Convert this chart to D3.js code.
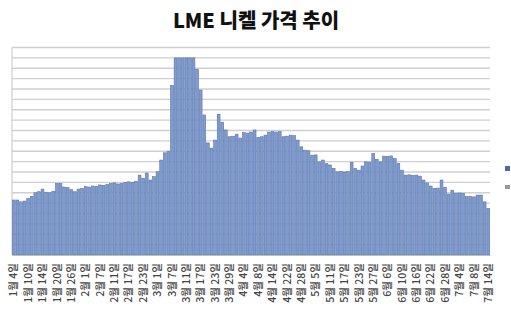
<!DOCTYPE html>
<html><head><meta charset="utf-8">
<script src="https://cdn.jsdelivr.net/npm/d3@7"></script>
<style>body{margin:0;background:#fff;}svg{display:block;}</style>
</head><body>
<svg id="c" width="511" height="320"></svg>
<script>
const title = "LME 니켈 가격 추이";
const months = [1,2,3,4,5,6,7];
const tradingDays = [
  [4,5,6,7,10,11,12,13,14,17,18,19,20,21,24,25,26,27,28,31],
  [1,2,3,4,7,8,9,10,11,14,15,16,17,18,21,22,23,24,25,28],
  [1,2,3,4,7,8,9,10,11,14,15,16,17,18,21,22,23,24,25,28,29,30,31],
  [1,4,5,6,7,8,11,12,13,14,19,20,21,22,25,26,27,28,29],
  [3,4,5,6,9,10,11,12,13,16,17,18,19,20,23,24,25,26,27,30,31],
  [1,6,7,8,9,10,13,14,15,16,17,20,21,22,23,24,27,28,29,30],
  [1,4,5,6,7,8,11,12,13,14]
];
const prices = [
  20600,20600,20250,20400,20900,21300,22000,22200,22700,22100,
  22000,22300,23800,23800,23100,23000,22600,22200,22700,22800,
  23200,23100,23300,23200,23500,23400,23600,23800,23900,23700,
  23800,24000,24100,24000,24200,25400,24800,25800,24450,25100,
  26050,28300,29700,30000,42700,48000,48000,48000,48000,48000,
  48000,45800,41800,37000,31600,30600,32150,37150,35600,34100,
  32800,32900,33300,32550,33600,33500,33700,34100,32700,32800,
  33100,33700,33800,33700,33800,32800,32900,33100,33000,32150,
  30850,30200,30100,29250,29300,27950,28300,27650,27350,26700,
  26050,26100,26000,26050,27850,26700,26350,27150,27950,27900,
  29600,28450,27950,29050,29000,29100,28600,27650,26350,25400,
  25450,25350,25400,25200,24450,23900,23300,22850,22900,24450,
  23050,21750,22500,21900,21950,21850,21250,21300,21200,21550,
  21550,20250,19000
];
const yMin = 10000, yMax = 50000, yStep = 2000;
const labelEvery = 4;

const dates = [];
months.forEach((m, k) => tradingDays[k].forEach(d => dates.push(m + "월 " + d + "일")));

const svg = d3.select("#c");
const L = 12, R = 490, T = 47.5, B = 255;

const x = d3.scaleBand().domain(dates).range([L, R]).paddingInner(0.22).paddingOuter(0.1);
const y = d3.scaleLinear().domain([yMin, yMax]).range([B, T]);

// gridlines
const gridVals = d3.range(yMin + yStep, yMax + 1, yStep);
svg.append("g").selectAll("line").data(gridVals).join("line")
  .attr("x1", L).attr("x2", R)
  .attr("y1", d => y(d)).attr("y2", d => y(d))
  .attr("stroke", "#cfcfcf").attr("stroke-width", 1.4);

// left plot border
svg.append("line").attr("x1", L).attr("x2", L).attr("y1", T).attr("y2", B)
  .attr("stroke", "#cfcfcf").attr("stroke-width", 1.2);

// bars
svg.append("g").selectAll("rect").data(prices).join("rect")
  .attr("x", (d, i) => x(dates[i]))
  .attr("width", x.bandwidth())
  .attr("y", d => y(d))
  .attr("height", d => B - y(d))
  .attr("fill", "#7f9bcd")
  .attr("stroke", "#5a76ad").attr("stroke-width", 0.6);

// x axis
const xAxis = d3.axisBottom(x)
  .tickValues(dates.filter((d, i) => i % labelEvery === 0))
  .tickSize(0).tickPadding(0);
const gx = svg.append("g").attr("transform", `translate(0,${B})`).call(xAxis);
gx.select(".domain").attr("stroke", "#bdbdbd");
gx.selectAll("text")
  .attr("transform", "rotate(-90)")
  .attr("x", -8).attr("y", 0).attr("dy", "0.35em")
  .attr("text-anchor", "end")
  .attr("font-family", "'Noto Sans CJK KR', 'Noto Sans', sans-serif")
  .attr("font-size", 10.5)
  .attr("font-weight", 500)
  .attr("fill", "#444");

// title
svg.append("text").attr("x", 256).attr("y", 28).attr("text-anchor", "middle")
  .attr("font-family", "'Noto Sans CJK KR', sans-serif")
  .attr("font-weight", 900).attr("font-size", 20).attr("fill", "#111")
  .text(title);

// clipped legend markers at right edge
svg.append("rect").attr("x", 505).attr("y", 166).attr("width", 5).attr("height", 5).attr("fill", "#4a6aa8");
svg.append("rect").attr("x", 505).attr("y", 185).attr("width", 5).attr("height", 4).attr("fill", "#9a9a9a");
</script>
</body></html>
